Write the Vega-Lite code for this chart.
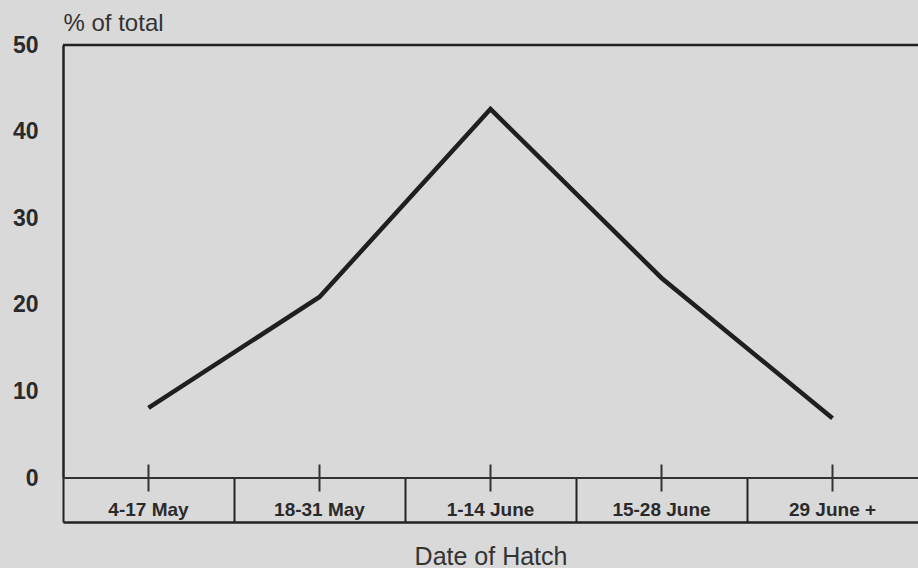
{
  "$schema": "https://vega.github.io/schema/vega-lite/v6.json",
  "width": 855,
  "height": 433,
  "autosize": {"type": "none"},
  "padding": {"left": 63, "top": 45, "right": 0, "bottom": 90},
  "background": "#d9d9d9",
  "config": {"view": {"stroke": null}, "font": "Liberation Sans"},
  "data": {
    "values": [
      {"hatch": "4-17 May", "pct": 8.1},
      {"hatch": "18-31 May", "pct": 20.9},
      {"hatch": "1-14 June", "pct": 42.6},
      {"hatch": "15-28 June", "pct": 23.1},
      {"hatch": "29 June +", "pct": 6.9}
    ]
  },
  "layer": [
    {
      "data": {"values": [{}]},
      "mark": {"type": "rule", "color": "#222222", "strokeWidth": 2.5},
      "encoding": {"y": {"datum": 50, "type": "quantitative"}}
    },
    {
      "data": {"values": [{}]},
      "mark": {"type": "rule", "color": "#333333", "strokeWidth": 2},
      "encoding": {"y": {"datum": 0, "type": "quantitative"}}
    },
    {
      "mark": {"type": "tick", "orient": "vertical", "size": 27, "thickness": 2, "color": "#333333", "opacity": 1},
      "encoding": {
        "x": {"field": "hatch", "type": "nominal", "sort": null, "bandPosition": 0.5},
        "y": {"datum": 0, "type": "quantitative"}
      }
    },
    {
      "mark": {"type": "line", "color": "#1f1f1f", "strokeWidth": 4.5, "strokeJoin": "miter"},
      "encoding": {
        "x": {
          "field": "hatch",
          "type": "nominal",
          "sort": null,
          "bandPosition": 0.5,
          "scale": {"type": "band", "paddingInner": 0, "paddingOuter": 0},
          "axis": {
            "title": "Date of Hatch",
            "orient": "bottom",
            "offset": 44,
            "bandPosition": 0,
            "tickSize": -44,
            "tickWidth": 2,
            "tickColor": "#222222",
            "domainColor": "#222222",
            "domainWidth": 2.5,
            "labelAngle": 0,
            "labelAlign": "center",
            "labelFontSize": 19,
            "labelFontWeight": "bold",
            "labelColor": "#2a2a2a",
            "labelPadding": 31,
            "labelBaseline": "middle",
            "titleFontSize": 25,
            "titleFontWeight": "normal",
            "titleColor": "#333333",
            "titleY": 34,
            "titleBaseline": "middle",
            "grid": false
          }
        },
        "y": {
          "field": "pct",
          "type": "quantitative",
          "scale": {"domain": [0, 50]},
          "axis": {
            "values": [0, 10, 20, 30, 40, 50],
            "ticks": false,
            "domainColor": "#222222",
            "domainWidth": 2.5,
            "labelFontSize": 23,
            "labelFontWeight": "bold",
            "labelColor": "#2a2a2a",
            "labelPadding": 25,
            "grid": false,
            "title": "% of total",
            "titleAngle": 0,
            "titleX": 0,
            "titleY": -22,
            "titleAlign": "left",
            "titleBaseline": "middle",
            "titleFontSize": 24,
            "titleFontWeight": "normal",
            "titleColor": "#333333"
          }
        }
      }
    }
  ]
}
